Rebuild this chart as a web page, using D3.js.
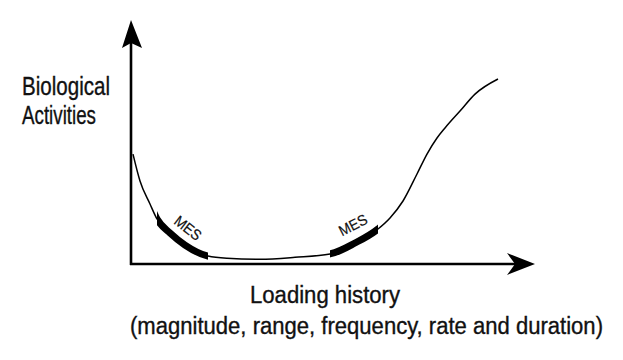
<!DOCTYPE html>
<html><head><meta charset="utf-8">
<script src="https://cdn.jsdelivr.net/npm/d3@7"></script>
<style>body{margin:0;background:#fff}svg{display:block}text{font-family:"Liberation Sans",Arial,sans-serif;fill:#111;stroke:#111;stroke-width:0.35px}</style>
</head><body>
<svg id="c" width="623" height="360"></svg>
<script>
// Data (abstract units: loading history 0..100, biological activity 0..100)
const loading  = [0.5, 2.25, 4.75, 6.5, 9.75, 13.5, 19.25, 24, 32.25, 41, 49.75, 56, 61.75, 64.75, 68, 71.5, 74, 76.5, 78.5, 82.25, 86, 91.75];
const activity = [45.8, 34.6, 25, 18.75, 12.9, 7.9, 3.3, 2.4, 2.0, 2.8, 4.2, 8.75, 14.6, 19.2, 26.25, 37.5, 45.8, 52.5, 56.7, 63.75, 70.8, 77.1];
const mesRanges = [[6.5, 19.25], [49.75, 61.75]];
const mesLabels = ["MES", "MES"];
const yLabel = ["Biological", "Activities"];
const xLabel = ["Loading history", "(magnitude, range, frequency, rate and duration)"];

const svg = d3.select("#c");
const x = d3.scaleLinear().domain([0, 100]).range([131, 531]);
const y = d3.scaleLinear().domain([0, 100]).range([264, 24]);

const pts = loading.map((v, i) => ({x: v, y: activity[i]}));
const line = d3.line().x(d => x(d.x)).y(d => y(d.y)).curve(d3.curveMonotoneX);

// axes
svg.append("line").attr("x1", x(0)).attr("x2", x(0)).attr("y1", 43).attr("y2", y(0) + 1)
  .attr("stroke", "#000").attr("stroke-width", 2.6);
svg.append("line").attr("x1", x(0) - 1).attr("x2", 516).attr("y1", y(0)).attr("y2", y(0))
  .attr("stroke", "#000").attr("stroke-width", 2.6);
const ax = x(0), ay = y(0);
svg.append("path").attr("d", `M${ax},20 L${ax + 11},48 L${ax},43 L${ax - 9},48 Z`).attr("fill", "#000");
svg.append("path").attr("d", `M535,${ay} L507,${ay - 11} L515,${ay} L507,${ay + 11} Z`).attr("fill", "#000");

// curve
svg.append("path").datum(pts).attr("d", line).attr("fill", "none").attr("stroke", "#000").attr("stroke-width", 1.5);

// MES thick segments (same curve, clipped to range)
mesRanges.forEach((r, k) => {
  const cid = "clip" + k;
  svg.append("clipPath").attr("id", cid).append("rect")
    .attr("x", x(r[0])).attr("width", x(r[1]) - x(r[0])).attr("y", 0).attr("height", 360);
  svg.append("path").datum(pts).attr("d", line).attr("clip-path", `url(#${cid})`)
    .attr("fill", "none").attr("stroke", "#000").attr("stroke-width", 7);
});

// MES labels
const mesPos = [[188, 228, 38], [353, 225, -27]];
mesLabels.forEach((t, k) => {
  svg.append("text").attr("transform", `translate(${mesPos[k][0]},${mesPos[k][1]}) rotate(${mesPos[k][2]})`)
    .attr("text-anchor", "middle").attr("dy", "0.35em").attr("font-size", 15)
    .attr("textLength", 30).attr("lengthAdjust", "spacingAndGlyphs").style("stroke-width", "0.2px").text(t);
});

// axis labels
svg.append("text").attr("x", 22).attr("y", 95).attr("font-size", 25).attr("textLength", 88).attr("lengthAdjust", "spacingAndGlyphs").text(yLabel[0]);
svg.append("text").attr("x", 22).attr("y", 124).attr("font-size", 25).attr("textLength", 74).attr("lengthAdjust", "spacingAndGlyphs").text(yLabel[1]);
svg.append("text").attr("x", 250).attr("y", 303).attr("font-size", 23).attr("textLength", 150).attr("lengthAdjust", "spacingAndGlyphs").text(xLabel[0]);
svg.append("text").attr("x", 130).attr("y", 334).attr("font-size", 23).attr("textLength", 473).attr("lengthAdjust", "spacingAndGlyphs").text(xLabel[1]);
</script>
</body></html>
